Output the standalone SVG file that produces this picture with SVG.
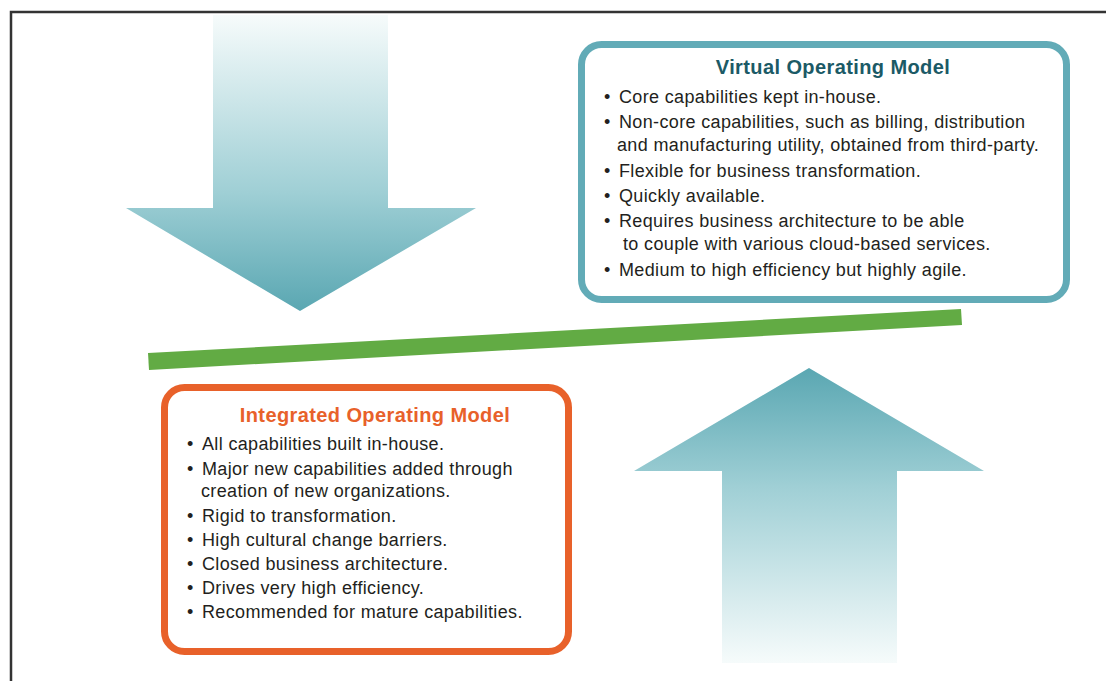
<svg xmlns="http://www.w3.org/2000/svg" width="1106" height="681" viewBox="0 0 1106 681">
<defs>
<linearGradient id="gDown" x1="0" y1="0" x2="0" y2="1">
<stop offset="0" stop-color="#f6fbfb"/>
<stop offset="0.6" stop-color="#9fcfd5"/>
<stop offset="1" stop-color="#5aa7b2"/>
</linearGradient>
<linearGradient id="gUp" x1="0" y1="1" x2="0" y2="0">
<stop offset="0" stop-color="#f6fbfb"/>
<stop offset="0.6" stop-color="#9fcfd5"/>
<stop offset="1" stop-color="#5aa7b2"/>
</linearGradient>
<style>
.body{font-family:"Liberation Sans",Arial,sans-serif;font-size:18px;letter-spacing:0.35px;fill:#231f20}
.title{font-family:"Liberation Sans",Arial,sans-serif;font-size:20px;letter-spacing:0.4px;font-weight:bold;text-anchor:middle}
</style>
</defs>
<rect width="1106" height="681" fill="#ffffff"/>
<path d="M11 681 V12 H1106" fill="none" stroke="#333333" stroke-width="2.5"/>
<g id="connectors">
<polygon id="arrow-down" points="213,15 388,15 388,208 476,208 300,311 126,208 213,208" fill="url(#gDown)"/>
<polygon id="arrow-up" points="809,368 984,471 897,471 897,663 722,663 722,471 634,471" fill="url(#gUp)"/>
<polygon id="balance" points="148,353 961,309 962,325 149,370" fill="#62ab44"/>
</g>
<g id="virtual">
<rect x="581.5" y="44.5" width="485" height="255" rx="20" fill="#ffffff" stroke="#62abb7" stroke-width="7"/>
<text class="title" x="833" y="74" fill="#1b5a66">Virtual Operating Model</text>
<g class="body">
<text x="604" y="103">•</text><text x="619" y="103">Core capabilities kept in-house.</text>
<text x="604" y="128">•</text><text x="619" y="128">Non-core capabilities, such as billing, distribution</text>
<text x="617" y="151">and manufacturing utility, obtained from third-party.</text>
<text x="604" y="177">•</text><text x="619" y="177">Flexible for business transformation.</text>
<text x="604" y="202">•</text><text x="619" y="202">Quickly available.</text>
<text x="604" y="227">•</text><text x="619" y="227">Requires business architecture to be able</text>
<text x="623" y="250">to couple with various cloud-based services.</text>
<text x="604" y="276">•</text><text x="619" y="276">Medium to high efficiency but highly agile.</text>
</g>
</g>
<g id="integrated">
<rect x="164.5" y="387.5" width="404" height="264" rx="20" fill="#ffffff" stroke="#e8612a" stroke-width="7"/>
<text class="title" x="375" y="422" fill="#e8612a">Integrated Operating Model</text>
<g class="body">
<text x="187" y="450">•</text><text x="202" y="450">All capabilities built in-house.</text>
<text x="187" y="475">•</text><text x="202" y="475">Major new capabilities added through</text>
<text x="201" y="497">creation of new organizations.</text>
<text x="187" y="522">•</text><text x="202" y="522">Rigid to transformation.</text>
<text x="187" y="546">•</text><text x="202" y="546">High cultural change barriers.</text>
<text x="187" y="570">•</text><text x="202" y="570">Closed business architecture.</text>
<text x="187" y="594">•</text><text x="202" y="594">Drives very high efficiency.</text>
<text x="187" y="618">•</text><text x="202" y="618">Recommended for mature capabilities.</text>
</g>
</g>
</svg>
